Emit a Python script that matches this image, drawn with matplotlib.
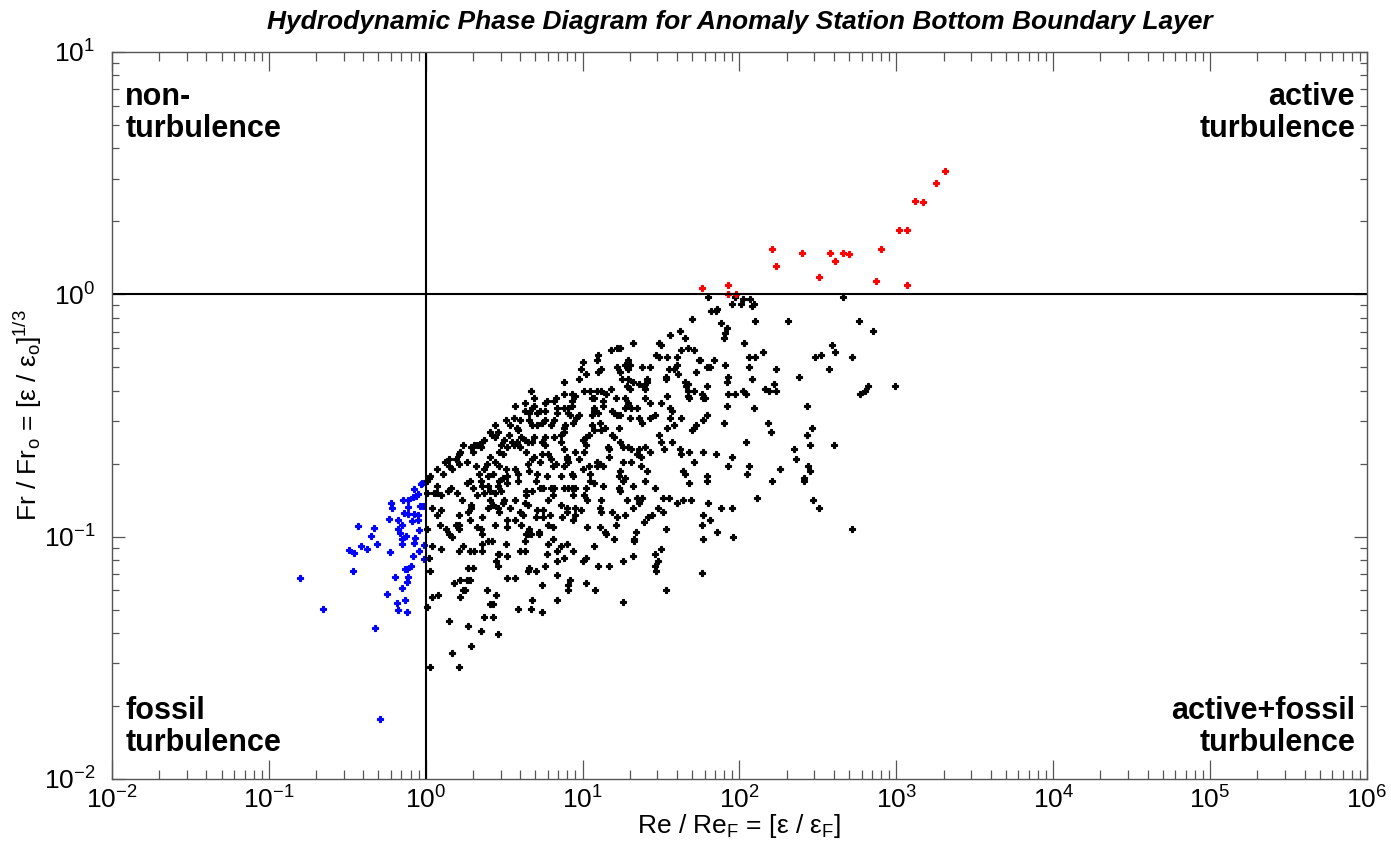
import numpy as np
import matplotlib
matplotlib.use("Agg")
import matplotlib.pyplot as plt
from matplotlib import font_manager
from matplotlib.ticker import LogLocator, FuncFormatter, NullFormatter

# values are log10(Re/Re_F), log10(Fr/Fr_o)
red_pts = [(1.76, 0.026), (1.93, 0.038), (1.93, 0.002), (1.98, 0.003), (2.21, 0.186),
           (2.23, 0.117), (2.40, 0.170), (2.51, 0.071), (2.58, 0.170), (2.61, 0.138),
           (2.66, 0.170), (2.70, 0.165), (2.87, 0.054), (2.90, 0.186), (3.02, 0.265),
           (3.07, 0.265), (3.07, 0.038), (3.12, 0.384), (3.17, 0.380), (3.25, 0.460),
           (3.31, 0.508)]

blue_pts = [(-0.800, -1.172), (-0.653, -1.300), (-0.322, -1.378), (-0.290, -1.754),
            (-0.487, -1.056), (-0.455, -1.069), (-0.464, -1.140), (-0.430, -0.957),
            (-0.413, -1.040), (-0.377, -1.052), (-0.351, -0.997), (-0.328, -0.965),
            (-0.309, -1.029), (-0.247, -1.235), (-0.237, -0.928), (-0.230, -1.065),
            (-0.222, -0.861), (-0.215, -0.882), (-0.198, -1.168), (-0.181, -1.275),
            (-0.179, -1.304), (-0.175, -0.932), (-0.177, -0.970), (-0.162, -0.986),
            (-0.152, -0.953), (-0.150, -1.008), (-0.150, -1.029), (-0.150, -1.212),
            (-0.143, -0.849), (-0.137, -0.901), (-0.130, -1.263), (-0.130, -1.135),
            (-0.120, -1.132), (-0.120, -1.188), (-0.118, -1.312), (-0.113, -0.849),
            (-0.113, -1.166), (-0.113, -0.877), (-0.126, -0.997), (-0.111, -0.908),
            (-0.094, -1.121), (-0.088, -0.937), (-0.082, -1.080), (-0.079, -0.835),
            (-0.075, -0.802), (-0.075, -0.905), (-0.073, -1.026), (-0.069, -1.007),
            (-0.062, -0.832), (-0.050, -0.825), (-0.050, -0.932), (-0.048, -0.910),
            (-0.045, -0.974), (-0.045, -1.060), (-0.031, -0.782), (-0.024, -0.780),
            (-0.035, -0.872), (-0.020, -0.875), (-0.014, -1.033), (-0.014, -1.092)]

black_pts = [
    (1.70, -0.10), (1.56, -0.17), (1.62, -0.15), (1.65, -0.18), (1.49, -0.20), (1.50, -0.21),
    (1.32, -0.20), (1.18, -0.23), (1.22, -0.22), (1.24, -0.22), (1.67, -0.22), (1.71, -0.23),
    (1.63, -0.23), (1.47, -0.25), (1.49, -0.26), (1.54, -0.26), (1.60, -0.26), (1.74, -0.27),
    (1.10, -0.25), (1.09, -0.27), (1.00, -0.28), (1.29, -0.27), (1.27, -0.29), (1.22, -0.30),
    (1.24, -0.32), (1.29, -0.31), (1.30, -0.29), (1.38, -0.30), (1.43, -0.30), (1.55, -0.31),
    (1.58, -0.31), (1.60, -0.29), (1.72, -0.32), (0.99, -0.31), (1.02, -0.33), (1.10, -0.32),
    (1.12, -0.31), (1.53, -0.34), (1.53, -0.35), (1.61, -0.33), (1.65, -0.36), (1.67, -0.37),
    (0.88, -0.36), (0.98, -0.35), (1.25, -0.35), (1.29, -0.35), (1.32, -0.36), (1.41, -0.35),
    (1.41, -0.36), (1.39, -0.38), (1.40, -0.39), (1.36, -0.37), (1.28, -0.38), (1.30, -0.39),
    (1.66, -0.38), (1.67, -0.40), (1.71, -0.40), (1.67, -0.42), (1.68, -0.43), (1.54, -0.42),
    (1.18, -0.39), (1.15, -0.41), (1.12, -0.40), (1.09, -0.40), (1.05, -0.40), (1.01, -0.40),
    (1.06, -0.43), (1.07, -0.43), (0.95, -0.42), (0.93, -0.41), (0.88, -0.41), (0.67, -0.40),
    (0.69, -0.43), (1.21, -0.43), (1.27, -0.43), (1.29, -0.45), (1.27, -0.47), (1.31, -0.47),
    (1.35, -0.47), (1.40, -0.43), (1.43, -0.45), (1.50, -0.45), (1.56, -0.47), (1.57, -0.48),
    (1.13, -0.44), (1.13, -0.46), (1.07, -0.47), (1.07, -0.48), (0.93, -0.44), (0.93, -0.46),
    (0.91, -0.47), (0.88, -0.47), (0.83, -0.43), (0.82, -0.44), (0.77, -0.44), (0.76, -0.45),
    (0.69, -0.46), (0.68, -0.47), (0.57, -0.46), (0.63, -0.45), (0.63, -0.48), (0.66, -0.49),
    (0.71, -0.49), (0.73, -0.48), (0.76, -0.48), (0.84, -0.47), (0.84, -0.49), (0.91, -0.49),
    (0.92, -0.50), (0.98, -0.50), (0.96, -0.51), (1.06, -0.50), (1.10, -0.49), (1.11, -0.53),
    (1.19, -0.48), (1.20, -0.49), (1.22, -0.50), (1.24, -0.50), (1.30, -0.51), (1.36, -0.51),
    (1.38, -0.53), (1.43, -0.51), (1.46, -0.50), (1.56, -0.51), (1.58, -0.54), (1.63, -0.51),
    (1.54, -0.55), (1.71, -0.55), (1.70, -0.56), (1.72, -0.54), (1.23, -0.55), (1.19, -0.58),
    (1.20, -0.59), (1.14, -0.55), (1.12, -0.56), (1.06, -0.54), (1.07, -0.56), (1.04, -0.58),
    (1.02, -0.59), (1.00, -0.60), (1.02, -0.62), (0.94, -0.53), (0.89, -0.54), (0.88, -0.55),
    (0.82, -0.52), (0.80, -0.54), (0.76, -0.52), (0.74, -0.53), (0.71, -0.54), (0.68, -0.54),
    (0.66, -0.52), (0.60, -0.52), (0.56, -0.51), (0.51, -0.52), (0.54, -0.54), (0.58, -0.55),
    (0.59, -0.56), (0.61, -0.59), (0.63, -0.60), (0.65, -0.61), (0.68, -0.61), (0.69, -0.59),
    (0.74, -0.61), (0.76, -0.62), (0.76, -0.59), (0.82, -0.59), (0.86, -0.58), (0.86, -0.61),
    (0.88, -0.57), (0.88, -0.64), (0.90, -0.67), (0.90, -0.68), (0.95, -0.65), (1.01, -0.65),
    (1.09, -0.69), (1.09, -0.71), (1.16, -0.63), (1.17, -0.64), (1.17, -0.67), (1.24, -0.61),
    (1.26, -0.63), (1.29, -0.63), (1.31, -0.64), (1.36, -0.64), (1.35, -0.66), (1.37, -0.67),
    (1.40, -0.63), (1.43, -0.65), (1.49, -0.58), (1.50, -0.61), (1.52, -0.64), (1.57, -0.61),
    (1.62, -0.64), (1.63, -0.66), (1.68, -0.65), (1.71, -0.69), (1.26, -0.69), (1.31, -0.69),
    (1.37, -0.71), (1.41, -0.73), (1.24, -0.73), (1.23, -0.75), (1.27, -0.76), (1.64, -0.73),
    (1.65, -0.74), (0.53, -0.58), (0.50, -0.60), (0.46, -0.57), (0.44, -0.54), (0.42, -0.58),
    (0.41, -0.57), (0.44, -0.59), (0.48, -0.62), (0.47, -0.65), (0.49, -0.66), (0.52, -0.63),
    (0.55, -0.61), (0.56, -0.62), (0.58, -0.61), (0.60, -0.63), (0.64, -0.65), (0.68, -0.68),
    (0.69, -0.67), (0.74, -0.66), (0.73, -0.69), (0.78, -0.66), (0.80, -0.68), (0.81, -0.71),
    (0.83, -0.70), (0.88, -0.71), (0.91, -0.69), (0.93, -0.74), (0.98, -0.68), (1.00, -0.72),
    (1.04, -0.71), (1.05, -0.74), (1.11, -0.70), (1.13, -0.71), (0.36, -0.61), (0.33, -0.62),
    (0.37, -0.60), (0.35, -0.63), (0.31, -0.62), (0.29, -0.63), (0.24, -0.62), (0.22, -0.65),
    (0.21, -0.66), (0.19, -0.68), (0.15, -0.68), (0.12, -0.69), (0.15, -0.71), (0.17, -0.72),
    (0.21, -0.70), (0.26, -0.69), (0.30, -0.65), (0.32, -0.71), (0.34, -0.74), (0.37, -0.72),
    (0.39, -0.70), (0.41, -0.67), (0.44, -0.69), (0.47, -0.71), (0.51, -0.72), (0.52, -0.75),
    (0.57, -0.72), (0.59, -0.74), (0.11, -0.74), (0.03, -0.75), (0.02, -0.76), (0.07, -0.72),
    (0.40, -0.75), (0.43, -0.74), (0.49, -0.76), (0.65, -0.70), (0.66, -0.73), (0.71, -0.74),
    (0.77, -0.75), (0.86, -0.75), (0.94, -0.75),
    # right part, x > 50
    (1.80, -0.01), (1.95, -0.04), (2.01, -0.04), (2.02, -0.02), (2.07, -0.02), (1.97, -0.01),
    (2.08, -0.05), (2.09, -0.04), (2.66, -0.01), (1.82, -0.07), (1.85, -0.07), (1.86, -0.06),
    (1.88, -0.12), (1.92, -0.14), (1.91, -0.16), (1.90, -0.18), (2.10, -0.11), (2.31, -0.11),
    (2.76, -0.11), (2.85, -0.15), (2.03, -0.20), (2.15, -0.24), (2.06, -0.26), (2.10, -0.26),
    (1.84, -0.27), (1.75, -0.27), (1.79, -0.30), (1.81, -0.30), (1.91, -0.29), (2.06, -0.30),
    (2.23, -0.31), (2.48, -0.26), (2.52, -0.25), (2.59, -0.21), (2.61, -0.24), (2.72, -0.26),
    (2.57, -0.31), (2.38, -0.34), (1.93, -0.34), (1.92, -0.36), (2.08, -0.35), (1.79, -0.38),
    (1.76, -0.41), (1.77, -0.43), (1.78, -0.43), (1.93, -0.41), (1.97, -0.41), (2.02, -0.40),
    (2.04, -0.41), (2.16, -0.39), (2.19, -0.40), (2.22, -0.37), (2.23, -0.40), (2.77, -0.41),
    (2.80, -0.40), (2.82, -0.38), (2.99, -0.38), (1.92, -0.46), (2.09, -0.47), (2.43, -0.46),
    (1.79, -0.50), (1.77, -0.52), (1.90, -0.53), (2.18, -0.53), (2.20, -0.57), (2.46, -0.55),
    (2.43, -0.58), (2.04, -0.61), (2.45, -0.62), (2.60, -0.62), (1.77, -0.65), (1.85, -0.66),
    (1.95, -0.67), (1.93, -0.71), (2.06, -0.71), (2.05, -0.74), (2.26, -0.72), (2.35, -0.64),
    (2.36, -0.68), (2.44, -0.71), (2.45, -0.73), (2.41, -0.76), (1.79, -0.75), (2.72, -0.97),
    # lower part, Fr < 0.17
    (0.01, -0.77), (0.07, -0.79), (0.10, -0.83), (0.01, -0.82), (0.05, -0.82), (0.07, -0.82),
    (0.14, -0.81), (0.16, -0.80), (0.20, -0.82), (0.23, -0.85), (0.26, -0.78), (0.28, -0.77),
    (0.30, -0.80), (0.33, -0.83), (0.35, -0.77), (0.36, -0.79), (0.37, -0.82), (0.40, -0.79),
    (0.41, -0.81), (0.41, -0.85), (0.44, -0.82), (0.46, -0.79), (0.47, -0.77), (0.48, -0.81),
    (0.52, -0.78), (0.50, -0.85), (0.57, -0.85), (0.59, -0.77), (0.64, -0.81), (0.64, -0.83),
    (0.68, -0.81), (0.70, -0.77), (0.73, -0.80), (0.75, -0.80), (0.80, -0.80), (0.82, -0.80),
    (0.81, -0.83), (0.78, -0.85), (0.88, -0.80), (0.91, -0.80), (0.93, -0.80), (0.95, -0.80),
    (0.94, -0.83), (1.02, -0.80), (1.01, -0.83), (1.03, -0.85), (1.05, -0.77), (1.07, -0.78),
    (1.13, -0.79), (1.12, -0.85), (1.23, -0.80), (1.24, -0.81), (1.26, -0.77), (1.28, -0.85),
    (1.32, -0.79), (1.35, -0.84), (1.36, -0.86), (1.38, -0.84), (1.40, -0.77), (1.46, -0.80),
    (1.51, -0.84), (1.55, -0.84), (1.60, -0.86), (1.64, -0.85), (1.68, -0.78), (1.69, -0.85),
    (1.79, -0.77), (1.80, -0.86), (2.11, -0.84), (2.21, -0.77), (2.41, -0.77), (2.47, -0.85),
    (2.51, -0.88), (1.88, -0.88), (1.95, -0.88), (0.04, -0.88), (0.10, -0.89), (0.07, -0.91),
    (0.09, -0.95), (0.13, -0.97), (0.15, -0.99), (0.17, -1.00), (0.19, -0.95), (0.21, -0.95),
    (0.21, -0.97), (0.21, -0.91), (0.27, -0.90), (0.28, -0.93), (0.29, -0.87), (0.29, -0.88),
    (0.33, -0.96), (0.35, -0.97), (0.36, -0.92), (0.36, -0.99), (0.36, -1.03), (0.40, -0.88),
    (0.43, -0.87), (0.44, -0.95), (0.46, -0.88), (0.47, -0.90), (0.49, -0.86), (0.52, -0.93),
    (0.52, -0.96), (0.54, -0.88), (0.57, -0.93), (0.60, -0.90), (0.61, -0.95), (0.62, -0.91),
    (0.63, -0.86), (0.65, -0.87), (0.66, -0.97), (0.64, -0.99), (0.67, -0.99), (0.70, -0.92),
    (0.71, -0.89), (0.72, -0.98), (0.75, -0.89), (0.75, -0.92), (0.79, -0.91), (0.78, -0.95),
    (0.81, -0.96), (0.86, -0.87), (0.87, -0.92), (0.90, -0.88), (0.90, -0.90), (0.94, -0.93),
    (0.95, -0.88), (0.95, -0.91), (0.99, -0.89), (1.03, -0.96), (1.11, -0.88), (1.12, -0.90),
    (1.11, -0.96), (1.14, -0.98), (1.15, -0.99), (1.19, -0.90), (1.21, -0.95), (1.22, -0.92),
    (1.27, -0.91), (1.20, -1.01), (1.32, -0.88), (1.34, -0.98), (1.33, -1.01), (1.33, -1.02),
    (1.39, -0.94), (1.42, -0.92), (1.44, -0.91), (1.48, -0.88), (1.51, -0.90), (1.53, -0.97),
    (1.77, -0.91), (1.76, -0.95), (1.81, -0.93), (1.86, -0.98), (1.96, -1.00), (1.77, -1.01),
    (0.04, -1.04), (0.02, -1.09), (0.03, -1.14), (0.10, -1.05), (0.21, -1.06), (0.24, -1.04),
    (0.28, -1.06), (0.31, -1.06), (0.36, -1.06), (0.27, -1.13), (0.30, -1.13), (0.18, -1.19),
    (0.22, -1.18), (0.26, -1.18), (0.28, -1.18), (0.40, -1.02), (0.42, -1.02), (0.45, -1.10),
    (0.46, -1.12), (0.46, -1.07), (0.47, -1.07), (0.51, -1.03), (0.52, -1.08), (0.52, -1.17),
    (0.57, -1.17), (0.60, -1.06), (0.63, -1.06), (0.63, -1.02), (0.65, -0.99), (0.65, -1.14),
    (0.66, -1.13), (0.70, -1.14), (0.72, -0.99), (0.74, -1.20), (0.76, -1.12), (0.77, -1.07),
    (0.78, -1.03), (0.81, -1.01), (0.84, -1.06), (0.84, -1.10), (0.84, -1.16), (0.86, -1.04),
    (0.88, -1.09), (0.90, -1.03), (0.92, -1.18), (0.91, -1.20), (0.91, -1.22), (0.94, -1.06),
    (1.00, -1.10), (1.02, -1.09), (1.02, -1.19), (1.07, -1.04), (1.08, -1.22), (1.10, -1.12),
    (1.17, -1.12), (1.26, -1.10), (1.26, -1.27), (1.32, -1.08), (1.46, -1.07), (1.50, -1.05),
    (1.48, -1.10), (1.46, -1.12), (1.47, -1.14), (1.53, -1.22), (1.76, -1.15), (0.01, -0.97),
    (0.04, -1.25), (0.01, -1.29), (0.08, -1.24), (0.22, -1.25), (0.24, -1.22), (0.25, -1.22),
    (0.39, -1.22), (0.45, -1.24), (0.41, -1.28), (0.43, -1.28), (0.37, -1.33), (0.43, -1.33),
    (0.59, -1.30), (0.67, -1.30), (0.68, -1.26), (0.74, -1.31), (0.84, -1.26), (0.15, -1.35),
    (0.27, -1.37), (0.35, -1.39), (0.46, -1.40), (0.29, -1.45), (0.17, -1.48), (0.03, -1.54),
    (0.21, -1.54),
]

title = "Hydrodynamic Phase Diagram for Anomaly Station Bottom Boundary Layer"
quad_labels = ["non-\nturbulence", "active\nturbulence",
               "fossil\nturbulence", "active+fossil\nturbulence"]

names = {f.name for f in font_manager.fontManager.ttflist}
axfont = "Liberation Sans Narrow" if "Liberation Sans Narrow" in names else "Liberation Sans"

plt.rcParams["font.family"] = [axfont, "DejaVu Sans"]
plt.rcParams["mathtext.fontset"] = "custom"
plt.rcParams["mathtext.rm"] = axfont
plt.rcParams["mathtext.it"] = axfont + ":italic"
plt.rcParams["mathtext.bf"] = axfont + ":bold"
plt.rcParams["axes.unicode_minus"] = False

fig = plt.figure(figsize=(13.91, 8.56), dpi=100)
ax = fig.add_axes([0.0805, 0.09, 0.9022, 0.8493])

def draw(pts, color):
    lx = np.array([p[0] for p in pts])
    ly = np.array([p[1] for p in pts])
    ax.plot(10 ** lx, 10 ** ly, linestyle="none", marker="P", ms=4.6, mew=0.8,
            color=color, mec=color)

draw(black_pts, "black")
draw(blue_pts, "#0000ff")
draw(red_pts, "#ff0000")

ax.axvline(1, color="black", lw=1.5)
ax.axhline(1, color="black", lw=1.5)

ax.set_xscale("log")
ax.set_yscale("log")
ax.set_xlim(1e-2, 1e6)
ax.set_ylim(1e-2, 1e1)

fmt = FuncFormatter(lambda v, pos: r"$\mathregular{10^{%d}}$" % round(np.log10(v)))
for axis in (ax.xaxis, ax.yaxis):
    axis.set_major_locator(LogLocator(base=10, numticks=20))
    axis.set_minor_locator(LogLocator(base=10, subs=np.arange(2, 10), numticks=200))
    axis.set_major_formatter(fmt)
    axis.set_minor_formatter(NullFormatter())

spine_c = "#555555"
for s in ax.spines.values():
    s.set_color(spine_c)
    s.set_linewidth(1.0)
ax.tick_params(which="both", direction="in", top=True, right=True, color=spine_c,
               labelsize=19, width=0.9)
ax.tick_params(axis="x", which="major", length=13.5, pad=5)
ax.tick_params(axis="x", which="minor", length=6.5)
ax.tick_params(axis="y", which="major", length=9.5, pad=12)
ax.tick_params(axis="y", which="minor", length=5)

ax.set_xlabel(r"Re / Re$_\mathregular{F}$ = [ε / ε$_\mathregular{F}$]", fontsize=19)
ax.set_ylabel(r"Fr / Fr$_\mathregular{o}$ = [ε / ε$_\mathregular{o}$]$^\mathregular{1/3}$", fontsize=19)
ax.xaxis.set_label_coords(0.5, -0.045)
ax.yaxis.set_label_coords(-0.054, 0.5)

fig.text(0.5316, 0.974, title, ha="center", va="center", fontsize=19,
         fontweight="bold", fontstyle="italic")

qfont = dict(fontsize=22, fontweight="bold", family="Liberation Sans", linespacing=1.05,
             transform=ax.transAxes, va="center")
ax.text(0.0105, 0.916, quad_labels[0], ha="left", **qfont)
ax.text(0.9905, 0.916, quad_labels[1], ha="right", multialignment="right", **qfont)
ax.text(0.0105, 0.0715, quad_labels[2], ha="left", **qfont)
ax.text(0.9905, 0.0715, quad_labels[3], ha="right", multialignment="right", **qfont)

fig.savefig("out.png", dpi=100)
